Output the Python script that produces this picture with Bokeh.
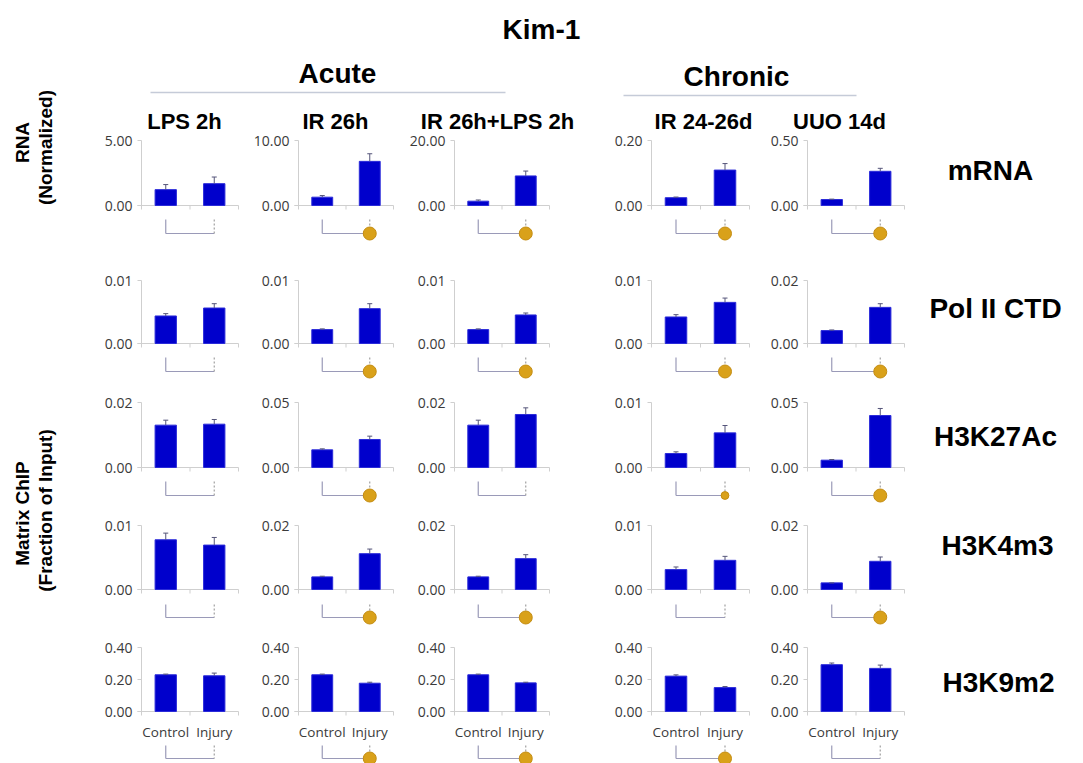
import math
from bokeh.plotting import figure
from bokeh.models import Range1d, ColumnDataSource
from bokeh.core.properties import value
from bokeh.embed import file_html
from bokeh.resources import INLINE

# ---------------- data ----------------
chart_title = "Kim-1"
group_names = ["Acute", "Chronic"]
conditions = ["LPS 2h", "IR 26h", "IR 26h+LPS 2h", "IR 24-26d", "UUO 14d"]
marks = ["mRNA", "Pol II CTD", "H3K27Ac", "H3K4m3", "H3K9m2"]
categories = ["Control", "Injury"]
y_title_rna = ["RNA", "(Normalized)"]
y_title_chip = ["Matrix ChIP", "(Fraction of Input)"]

# each row: one entry per condition, [Control, Injury]
mrna_mean = [[1.22, 1.68], [1.28, 6.79], [1.33, 9.10], [0.024, 0.109], [0.046, 0.263]]
mrna_err = [[0.39, 0.51], [0.25, 1.17], [0.37, 1.50], [0.002, 0.020], [0.003, 0.023]]
mrna_ticks = [[0, 5], [0, 10], [0, 20], [0, 0.2], [0, 0.5]]
mrna_tick_labels = [["0.00", "5.00"], ["0.00", "10.00"], ["0.00", "20.00"], ["0.00", "0.20"], ["0.00", "0.50"]]
mrna_sig = [0, 1, 1, 1, 1]

pol2_mean = [[0.00437, 0.00563], [0.00221, 0.00553], [0.00221, 0.00453], [0.00421, 0.00653], [0.0041, 0.01147]]
pol2_err = [[0.00037, 0.00069], [0.00011, 0.00079], [0.00011, 0.00031], [0.00037, 0.00068], [0.0002, 0.00116]]
pol2_ticks = [[0, 0.01], [0, 0.01], [0, 0.01], [0, 0.01], [0, 0.02]]
pol2_tick_labels = [["0.00", "0.01"], ["0.00", "0.01"], ["0.00", "0.01"], ["0.00", "0.01"], ["0.00", "0.02"]]
pol2_sig = [0, 1, 1, 1, 1]

k27_mean = [[0.01303, 0.01333], [0.0136, 0.02154], [0.01303, 0.01631], [0.00215, 0.00533], [0.00564, 0.0400]]
k27_err = [[0.00153, 0.00144], [0.00076, 0.00256], [0.00153, 0.00205], [0.00026, 0.00113], [0.00051, 0.0054]]
k27_ticks = [[0, 0.02], [0, 0.05], [0, 0.02], [0, 0.01], [0, 0.05]]
k27_tick_labels = [["0.00", "0.02"], ["0.00", "0.05"], ["0.00", "0.02"], ["0.00", "0.01"], ["0.00", "0.05"]]
k27_sig = [0, 1, 0, 0.6, 1]

k4_mean = [[0.00777, 0.00694], [0.00394, 0.01119], [0.00394, 0.00964], [0.00311, 0.00456], [0.00207, 0.00881]]
k4_err = [[0.00104, 0.00119], [0.00021, 0.00145], [0.00021, 0.00124], [0.00041, 0.00062], [0.0, 0.00135]]
k4_ticks = [[0, 0.01], [0, 0.02], [0, 0.02], [0, 0.01], [0, 0.02]]
k4_tick_labels = [["0.00", "0.01"], ["0.00", "0.02"], ["0.00", "0.02"], ["0.00", "0.01"], ["0.00", "0.02"]]
k4_sig = [0, 1, 1, 0, 1]

k9_mean = [[0.2295, 0.2232], [0.2295, 0.1768], [0.2295, 0.179], [0.221, 0.1495], [0.2926, 0.2695]]
k9_err = [[0.0042, 0.0168], [0.0042, 0.0062], [0.0042, 0.004], [0.008, 0.0065], [0.0104, 0.0205]]
k9_ticks = [[0, 0.2, 0.4]] * 5
k9_tick_labels = [["0.00", "0.20", "0.40"]] * 5
k9_sig = [0, 1, 1, 1, 0]

rows = [
    (mrna_mean, mrna_err, mrna_ticks, mrna_tick_labels, mrna_sig),
    (pol2_mean, pol2_err, pol2_ticks, pol2_tick_labels, pol2_sig),
    (k27_mean, k27_err, k27_ticks, k27_tick_labels, k27_sig),
    (k4_mean, k4_err, k4_ticks, k4_tick_labels, k4_sig),
    (k9_mean, k9_err, k9_ticks, k9_tick_labels, k9_sig),
]

# ---------------- layout (screen pixels) ----------------
FW, FH = 1067, 763
col_left = [141, 298, 454, 651, 807]
col_right = [238, 393, 549, 749, 904]
row_zero = [205, 343, 467, 589, 711]
row_top = [140, 280, 402, 525, 647]
bracket_off = [(14, 28), (14, 28), (14, 28), (15, 28), (34, 47)]

BAR = "#0000cc"
AXIS = "#cfcfcf"
TICKTXT = "#3a3a3a"
BRACKET = "#9a9ab8"
DOT = "#d9a11a"

p = figure(width=FW, height=FH, x_range=Range1d(0, FW), y_range=Range1d(FH, 0),
           x_axis_type=None, y_axis_type=None, toolbar_location=None,
           output_backend="svg", min_border=0, outline_line_color=None)
p.background_fill_color = "white"
p.border_fill_color = "white"

xr, yr, xs, ys = {}, {}, {}, {}
for c in range(5):
    l, r = col_left[c], col_right[c]
    s = (r - l) / 2.0
    st = -0.5 - l / s
    xr[f"x{c}"] = Range1d(st, st + FW / s)
    xs[c] = s
for ri, (means, errs, ticks, tlabels, sig) in enumerate(rows):
    for c in range(5):
        z, t = row_zero[ri], row_top[ri]
        ymax = ticks[c][-1]
        k = ymax / (z - t)
        st = -(FH - z) * k
        yr[f"y{ri}_{c}"] = Range1d(st, st + FH * k)
        ys[(ri, c)] = k
p.extra_x_ranges = xr
p.extra_y_ranges = yr

tick_font = value("Open Sans")
for ri, (means, errs, ticks, tlabels, sig) in enumerate(rows):
    for c in range(5):
        xn, yn = f"x{c}", f"y{ri}_{c}"
        sx, ky = xs[c], ys[(ri, c)]
        kw = dict(x_range_name=xn, y_range_name=yn)
        ymax = ticks[c][-1]
        # y axis line and ticks
        p.segment(x0=[-0.5], y0=[0], x1=[-0.5], y1=[ymax], line_color=AXIS, line_width=1, **kw)
        p.segment(x0=[-0.5 - 4 / sx] * len(ticks[c]), y0=ticks[c], x1=[-0.5] * len(ticks[c]), y1=ticks[c],
                  line_color=AXIS, line_width=1, **kw)
        # x axis line and ticks
        p.segment(x0=[-0.5 - 4 / sx], y0=[0], x1=[1.5], y1=[0], line_color=AXIS, line_width=1, **kw)
        p.segment(x0=[-0.5, 0.5, 1.5], y0=[0, 0, 0], x1=[-0.5, 0.5, 1.5], y1=[-4 * ky] * 3,
                  line_color=AXIS, line_width=1, **kw)
        # bars
        src = ColumnDataSource(dict(x=[0, 1], top=means[c],
                                    etop=[m + e for m, e in zip(means[c], errs[c])]))
        p.vbar(x="x", top="top", bottom=0, width=0.44, source=src,
               fill_color=BAR, line_color="#2b2bd9", line_width=1, **kw)
        p.segment(x0="x", y0="top", x1="x", y1="etop", source=src, line_color="#55557a", line_width=1, **kw)
        cap = 2.5 / sx
        p.segment(x0=[x - cap for x in [0, 1]], y0=src.data["etop"], x1=[x + cap for x in [0, 1]],
                  y1=src.data["etop"], line_color="#55557a", line_width=1, **kw)
        # tick labels
        p.text(x=[-0.5 - 9 / sx] * len(ticks[c]), y=ticks[c], text=tlabels[c],
               text_font=tick_font, text_font_size="14px", text_color=TICKTXT,
               text_align="right", text_baseline="middle", **kw)
        # category labels on the bottom row
        if ri == len(rows) - 1:
            p.text(x=[0, 1], y=[-20 * ky, -20 * ky], text=categories, text_font=tick_font,
                   text_font_size="13.5px", text_color=TICKTXT, text_align="center",
                   text_baseline="middle", **kw)
        # significance bracket
        b0, b1 = bracket_off[ri]
        p.segment(x0=[0, 0], y0=[-b0 * ky, -b1 * ky], x1=[0, 1], y1=[-b1 * ky, -b1 * ky],
                  line_color=BRACKET, line_width=1.2, **kw)
        p.segment(x0=[1], y0=[-b0 * ky], x1=[1], y1=[-b1 * ky], line_color="#a0a0a0",
                  line_width=1.2, line_dash="2 2", **kw)
        if sig[c]:
            p.scatter(x=[1], y=[-b1 * ky], size=13 * sig[c], marker="circle",
                      fill_color=DOT, line_color="#c48c10", line_width=1, **kw)

# ---------------- headers and labels (screen pixel layout) ----------------
bold = value("Liberation Sans")
p.text(x=[541], y=[29], text=[chart_title], text_font=bold, text_font_style="bold",
       text_font_size="28px", text_align="center", text_baseline="middle", text_color="black")
p.text(x=[337, 736], y=[73, 76], text=group_names, text_font=bold,
       text_font_style="bold", text_font_size="28px", text_align="center", text_baseline="middle",
       text_color="black")
p.segment(x0=[150, 623], y0=[92, 95], x1=[505, 856], y1=[92, 95], line_color="#c5cbd8", line_width=1.5)
title_x = [184, 335, 497, 703, 839]
p.text(x=title_x, y=[121] * 5, text=conditions, text_font=bold,
       text_font_style="bold", text_font_size="22px", text_align="center", text_baseline="middle",
       text_color="black")
mark_x = [990, 995, 995, 997, 998]
mark_y = [170, 308, 436, 545, 682]
p.text(x=mark_x, y=mark_y, text=marks, text_font=bold,
       text_font_style="bold", text_font_size="28px", text_align="center", text_baseline="middle",
       text_color="black")
p.text(x=[22, 45], y=[142, 147], text=y_title_rna, text_font=bold,
       text_font_style="bold", text_font_size="19px", text_align="center", text_baseline="middle",
       angle=math.pi / 2, text_color="black")
p.text(x=[22, 45], y=[513, 510], text=y_title_chip, text_font=bold,
       text_font_style="bold", text_font_size="19px", text_align="center", text_baseline="middle",
       angle=math.pi / 2, text_color="black")

open("out.html", "w").write(file_html(p, INLINE))
